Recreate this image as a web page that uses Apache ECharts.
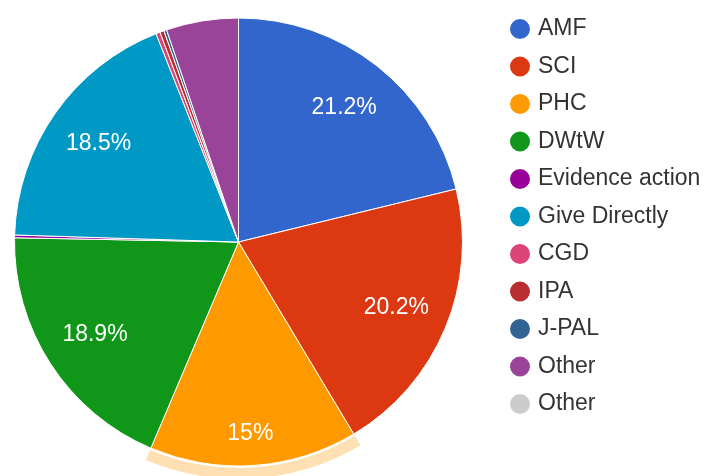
<!DOCTYPE html>
<html>
<head>
<meta charset="utf-8">
<script src="https://cdn.jsdelivr.net/npm/echarts@6/dist/echarts.min.js"></script>
<style>
  html, body { margin: 0; padding: 0; background: #fff; }
  #chart { width: 707px; height: 476px; }
</style>
</head>
<body>
<div id="chart"></div>
<script>
// slices, clockwise from 12 o'clock
var categories = ['AMF', 'SCI', 'PHC', 'DWtW', 'Evidence action', 'Give Directly', 'CGD', 'IPA', 'J-PAL', 'Other', 'Other'];
var shares = [21.2, 20.2, 15.0, 18.9, 0.2, 18.5, 0.3, 0.3, 0.2, 5.2, 0];
var colors = ['#3366cc', '#dc3912', '#ff9900', '#109618', '#990099', '#0099c6', '#dd4477', '#b82e2e', '#316395', '#994499', '#cccccc'];
var highlighted = 'PHC';

var FONT = '"Liberation Sans", Arial, sans-serif';
var R = 224;
var CENTER = [238.5, 242];

// names must be unique for the legend (two "Other" entries)
function key(i) { return categories[i] + '#' + i; }
function pct(p) { return +p.percent.toFixed(1) + '%'; }

var sliceData = shares.map(function (v, i) {
  return { name: key(i), value: v, itemStyle: { color: colors[i] } };
});

var labelData = shares.map(function (v, i) {
  var item = {
    name: key(i), value: v,
    itemStyle: { color: 'transparent', borderWidth: 0 },
    label: { show: v >= 10 }
  };
  if (categories[i] === highlighted) {
    // label sits further out on the highlighted slice
    item.label.lineHeight = 42;
    item.label.formatter = function (p) { return '\n' + pct(p); };
  }
  return item;
});

var ringData = shares.map(function (v, i) {
  return {
    name: key(i), value: v,
    itemStyle: { color: categories[i] === highlighted ? '#ffe0b2' : 'transparent', borderWidth: 0 }
  };
});

var chart = echarts.init(document.getElementById('chart'));
chart.setOption({
  animation: false,
  legend: {
    orient: 'vertical',
    left: 503,
    top: 12,
    icon: 'circle',
    itemWidth: 22,
    itemHeight: 22,
    itemGap: 13.5,
    selectedMode: false,
    data: sliceData.map(function (d) { return d.name; }),
    formatter: function (name) { return name.split('#')[0]; },
    textStyle: {
      fontFamily: FONT,
      fontSize: 23,
      color: '#333',
      lineHeight: 22,
      padding: [0, 0, 0, 2]
    }
  },
  series: [{
    type: 'pie',
    center: CENTER,
    radius: R,
    startAngle: 90,
    silent: true,
    data: sliceData,
    itemStyle: { borderColor: '#fff', borderWidth: 1 },
    label: { show: false },
    labelLine: { show: false }
  }, {
    type: 'pie',
    center: CENTER,
    radius: [R + 2, R + 13],
    startAngle: 90,
    silent: true,
    data: ringData,
    label: { show: false },
    labelLine: { show: false }
  }, {
    type: 'pie',
    center: CENTER,
    radius: [R / 2, R],
    startAngle: 90,
    silent: true,
    data: labelData,
    label: {
      position: 'inside',
      color: '#fff',
      fontFamily: FONT,
      fontSize: 23,
      formatter: pct
    },
    labelLine: { show: false }
  }]
});
</script>
</body>
</html>
